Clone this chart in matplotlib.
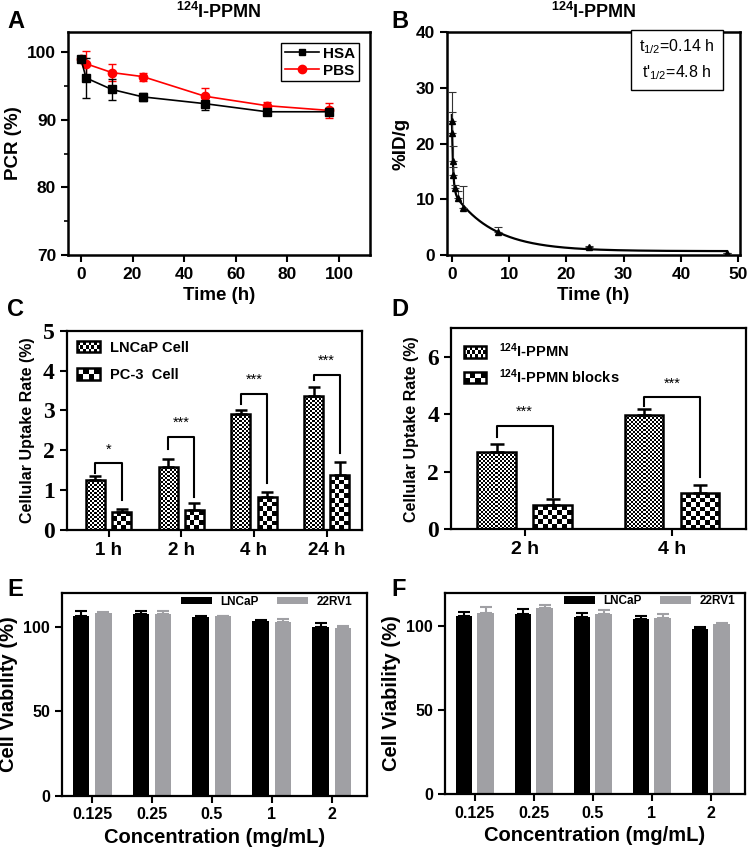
import numpy as np
import matplotlib
matplotlib.use('Agg')
import matplotlib.pyplot as plt
from matplotlib.patches import Rectangle, Patch
from matplotlib.lines import Line2D
from matplotlib.legend_handler import HandlerBase
from matplotlib.ticker import MultipleLocator

plt.rcParams['font.family'] = ['Liberation Sans', 'DejaVu Sans']
plt.rcParams['font.weight'] = 'bold'
plt.rcParams['axes.labelweight'] = 'bold'
plt.rcParams['mathtext.fontset'] = 'custom'
plt.rcParams['mathtext.rm'] = 'Liberation Sans:weight=normal:style=normal'
plt.rcParams['mathtext.bf'] = 'Liberation Sans:weight=bold:style=normal'
plt.rcParams['mathtext.it'] = 'Liberation Sans:weight=normal:style=italic'
plt.rcParams['mathtext.default'] = 'rm'

# ---- data ----
# A: radiochemical purity in HSA / PBS
a_time = [0, 2, 12, 24, 48, 72, 96]
hsa = [99.0, 96.2, 94.5, 93.4, 92.4, 91.2, 91.2]
hsa_err = [0.3, 3.0, 1.5, 0.6, 0.9, 0.4, 0.5]
pbs = [99.0, 98.3, 97.0, 96.4, 93.5, 92.1, 91.4]
pbs_err = [0.3, 1.9, 1.3, 0.6, 1.2, 0.6, 1.1]

# B: blood clearance
b_time = [0.033, 0.083, 0.167, 0.25, 0.5, 1, 2, 8, 24, 48]
b_val = [24.0, 21.8, 16.9, 14.4, 12.1, 10.3, 8.4, 4.2, 1.4, 0.3]
b_err = [5.3, 3.9, 2.6, 1.3, 0.4, 1.1, 4.0, 0.9, 0.2, 0.1]
# two-phase fit (half-lives from the panel)
t_half_fast, t_half_slow = 0.14, 4.8
amp_fast, amp_slow, plateau = 13.5, 10.9, 0.7

# C: cellular uptake LNCaP vs PC-3
c_labels = ['1 h', '2 h', '4 h', '24 h']
lncap = [1.25, 1.57, 2.90, 3.36]
lncap_err = [0.10, 0.22, 0.12, 0.22]
pc3 = [0.46, 0.50, 0.82, 1.37]
pc3_err = [0.06, 0.17, 0.14, 0.34]
c_bracket = [1.67, 2.33, 3.42, 3.89]
c_left_end = [1.42, 2.04, 3.17, 3.75]
c_right_end = [0.75, 0.82, 1.17, 1.92]
c_stars = ['*', '***', '***', '***']

# D: blocking study
d_labels = ['2 h', '4 h']
ppmn = [2.68, 3.97]
ppmn_err = [0.30, 0.21]
blocks = [0.83, 1.25]
blocks_err = [0.23, 0.30]
d_bracket = [3.61, 4.59]
d_left_end = [3.23, 4.30]
d_right_end = [1.14, 1.83]
d_stars = ['***', '***']

# E / F: cell viability
conc = ['0.125', '0.25', '0.5', '1', '2']
e_lncap = [106.3, 107.7, 105.7, 103.8, 100.0]
e_lncap_err = [3.4, 1.8, 1.0, 0.6, 2.2]
e_22rv1 = [108.3, 107.7, 106.3, 103.2, 99.6]
e_22rv1_err = [0.8, 1.6, 0.5, 1.4, 1.2]
f_lncap = [105.8, 107.2, 105.2, 104.0, 98.5]
f_lncap_err = [2.8, 3.0, 2.8, 2.2, 1.0]
f_22rv1 = [108.0, 111.0, 107.2, 104.7, 101.2]
f_22rv1_err = [3.3, 1.8, 2.5, 2.5, 0.8]

GREY = '#a0a0a4'


def checker_fill(ax, bars, cell_px):
    for rect in bars:
        x0, y0 = rect.get_x(), rect.get_y()
        x1, y1 = x0 + rect.get_width(), y0 + rect.get_height()
        (px0, py0), (px1, py1) = ax.transData.transform([(x0, y0), (x1, y1)])
        nx = max(1, int(round((px1 - px0) / cell_px)))
        ny = max(1, int(round((py1 - py0) / cell_px)))
        ii, jj = np.indices((ny, nx))
        im = ax.imshow((ii + jj) % 2, extent=(x0, x1, y0, y1), cmap='gray',
                       vmin=0, vmax=1, interpolation='nearest', aspect='auto',
                       origin='lower', zorder=1)
        im.set_clip_path(rect)


class CheckerHandler(HandlerBase):
    def __init__(self, nx, ny):
        super().__init__()
        self.nx, self.ny = nx, ny

    def create_artists(self, legend, orig_handle, xdescent, ydescent,
                       width, height, fontsize, trans):
        arts = []
        cw, ch = width / self.nx, height / self.ny
        for i in range(self.nx):
            for j in range(self.ny):
                if (i + j) % 2 == 0:
                    arts.append(Rectangle((-xdescent + i * cw, -ydescent + j * ch), cw, ch,
                                          facecolor='black', edgecolor='none', transform=trans))
        arts.append(Rectangle((-xdescent, -ydescent), width, height, facecolor='none',
                              edgecolor='black', lw=1.8, transform=trans))
        return arts


def spines(ax, lw):
    for s in ax.spines.values():
        s.set_linewidth(lw)


fig = plt.figure(figsize=(7.5, 8.47), dpi=100)

# ---------------- A ----------------
axA = fig.add_axes([0.0907, 0.6989, 0.4027, 0.2633])
axA.errorbar(a_time, pbs, yerr=pbs_err, color='red', marker='o', ms=6,
             lw=1.2, capsize=3, elinewidth=1, capthick=1)
axA.errorbar(a_time, hsa, yerr=hsa_err, color='black', marker='s', ms=5.5,
             lw=1.2, capsize=3, elinewidth=1, capthick=1)
hA1 = Line2D([], [], color='black', marker='s', ms=5, lw=1.2)
hA2 = Line2D([], [], color='red', marker='o', ms=6, lw=1.2)
leg = axA.legend([hA1, hA2], ['HSA', 'PBS'], loc='upper right', fontsize=11,
                 fancybox=False, edgecolor='black', framealpha=1, handlelength=2.2,
                 borderaxespad=0.7, handletextpad=0.3, borderpad=0.25, labelspacing=0.2)
leg.get_frame().set_linewidth(1.0)
axA.set_xlim(-5, 112)
axA.set_ylim(70, 103)
axA.set_xticks([0, 20, 40, 60, 80, 100])
axA.set_yticks([70, 80, 90, 100])
axA.yaxis.set_minor_locator(MultipleLocator(5))
axA.tick_params(labelsize=12.5, width=1.5, length=5)
axA.tick_params(which='minor', width=1.2, length=3)
axA.set_xlabel('Time (h)', fontsize=13.5)
axA.set_ylabel('PCR (%)', fontsize=13.5)
axA.set_title(r'$\mathbf{^{124}}$I-PPMN', fontsize=13, fontweight='bold', pad=10)
spines(axA, 1.8)

# ---------------- B ----------------
axB = fig.add_axes([0.5956, 0.6989, 0.391, 0.2633])
t_fit = np.linspace(0, 48, 600)
y_fit = (amp_fast * np.exp(-np.log(2) * t_fit / t_half_fast)
         + amp_slow * np.exp(-np.log(2) * t_fit / t_half_slow) + plateau)
axB.plot(t_fit, y_fit, color='black', lw=1.6, zorder=3)
axB.errorbar(b_time, b_val, yerr=[np.zeros(len(b_err)), b_err], fmt='^', color='black',
             ms=5, ecolor='#333333', elinewidth=0.8, capsize=3, capthick=0.8, zorder=4)
axB.set_xlim(-0.9, 50.3)
axB.set_ylim(0, 40)
axB.set_xticks([0, 10, 20, 30, 40, 50])
axB.set_yticks([0, 10, 20, 30, 40])
axB.tick_params(labelsize=12.5, width=1.5, length=5)
axB.set_xlabel('Time (h)', fontsize=13.5)
axB.set_ylabel('%ID/g', fontsize=13.5)
axB.set_title(r'$\mathbf{^{124}}$I-PPMN', fontsize=13, fontweight='bold', pad=10)
axB.text(0.785, 0.875, 't$_{1/2}$=0.14 h\nt\'$_{1/2}$=4.8 h', transform=axB.transAxes,
         ha='center', va='center', fontsize=11.5, fontweight='normal', linespacing=1.5,
         bbox=dict(boxstyle='square,pad=0.5', facecolor='white', edgecolor='black', lw=1.0))
spines(axB, 1.8)

# ---------------- C ----------------
axC = fig.add_axes([0.0889, 0.3743, 0.3933, 0.2353])
xc = np.arange(len(c_labels))
off_c, w_c = 0.18, 0.26
bars_c1 = axC.bar(xc - off_c, lncap, w_c, facecolor='none', edgecolor='black', lw=1.8, zorder=2)
bars_c2 = axC.bar(xc + off_c, pc3, w_c, facecolor='none', edgecolor='black', lw=1.8, zorder=2)
axC.errorbar(xc - off_c, lncap, yerr=[np.zeros(4), lncap_err], fmt='none', ecolor='black',
             elinewidth=1.8, capsize=4, capthick=1.8, zorder=1.5)
axC.errorbar(xc + off_c, pc3, yerr=[np.zeros(4), pc3_err], fmt='none', ecolor='black',
             elinewidth=1.8, capsize=4, capthick=1.8, zorder=1.5)
for i in range(len(xc)):
    axC.plot([xc[i] - off_c, xc[i] - off_c, xc[i] + off_c, xc[i] + off_c],
             [c_left_end[i], c_bracket[i], c_bracket[i], c_right_end[i]],
             color='black', lw=1.5)
    axC.annotate(c_stars[i], (xc[i], c_bracket[i]), xytext=(0, 5), textcoords='offset points',
                 ha='center', va='bottom', fontsize=10.5, fontweight='normal')
axC.set_xlim(-0.575, 3.48)
axC.set_ylim(0, 5)
checker_fill(axC, bars_c1, 2.0)
checker_fill(axC, bars_c2, 4.6)
axC.set_xlim(-0.575, 3.48)
axC.set_ylim(0, 5)
axC.set_xticks(xc)
axC.set_xticklabels(c_labels)
axC.set_yticks([0, 1, 2, 3, 4, 5])
axC.tick_params(width=1.5, length=5)
axC.tick_params(axis='x', labelsize=13.5)
axC.tick_params(axis='y', labelsize=17, labelfontfamily='Liberation Serif')
axC.set_ylabel('Cellular Uptake Rate (%)', fontsize=11.5, labelpad=6)
h1, h2 = Patch(), Patch()
axC.legend([h1, h2], ['LNCaP Cell', 'PC-3  Cell'], loc='upper left', frameon=False,
           fontsize=10.5, handler_map={h1: CheckerHandler(8, 3), h2: CheckerHandler(4, 2)},
           handlelength=1.6, handleheight=0.8, labelspacing=0.9, borderaxespad=0.3,
           handletextpad=0.7)
spines(axC, 1.6)

# ---------------- D ----------------
axD = fig.add_axes([0.6013, 0.3751, 0.3929, 0.2373])
xd = np.arange(len(d_labels))
off_d, w_d = 0.19, 0.26
bars_d1 = axD.bar(xd - off_d, ppmn, w_d, facecolor='none', edgecolor='black', lw=1.8, zorder=2)
bars_d2 = axD.bar(xd + off_d, blocks, w_d, facecolor='none', edgecolor='black', lw=1.8, zorder=2)
axD.errorbar(xd - off_d, ppmn, yerr=[np.zeros(2), ppmn_err], fmt='none', ecolor='black',
             elinewidth=1.8, capsize=5, capthick=1.8, zorder=1.5)
axD.errorbar(xd + off_d, blocks, yerr=[np.zeros(2), blocks_err], fmt='none', ecolor='black',
             elinewidth=1.8, capsize=5, capthick=1.8, zorder=1.5)
for i in range(len(xd)):
    axD.plot([xd[i] - off_d, xd[i] - off_d, xd[i] + off_d, xd[i] + off_d],
             [d_left_end[i], d_bracket[i], d_bracket[i], d_right_end[i]],
             color='black', lw=1.5)
    axD.annotate(d_stars[i], (xd[i], d_bracket[i]), xytext=(0, 5), textcoords='offset points',
                 ha='center', va='bottom', fontsize=10.5, fontweight='normal')
axD.set_xlim(-0.5, 1.5)
axD.set_ylim(0, 7)
checker_fill(axD, bars_d1, 2.0)
checker_fill(axD, bars_d2, 4.6)
axD.set_xlim(-0.5, 1.5)
axD.set_ylim(0, 7)
axD.set_xticks(xd)
axD.set_xticklabels(d_labels)
axD.set_yticks([0, 2, 4, 6])
axD.tick_params(width=1.5, length=5)
axD.tick_params(axis='x', labelsize=14)
axD.tick_params(axis='y', labelsize=17, labelfontfamily='Liberation Serif')
axD.set_ylabel('Cellular Uptake Rate (%)', fontsize=11.5, labelpad=6)
h3, h4 = Patch(), Patch()
axD.legend([h3, h4], [r'$\mathbf{^{124}}$I-PPMN', r'$\mathbf{^{124}}$I-PPMN blocks'],
           loc='upper left', frameon=False, fontsize=10.5,
           handler_map={h3: CheckerHandler(8, 3), h4: CheckerHandler(4, 2)},
           handlelength=1.5, handleheight=0.8, labelspacing=0.5, borderaxespad=0.5,
           handletextpad=0.9)
spines(axD, 1.6)


# ---------------- E / F ----------------
def viability(ax, lnc, lnc_err, rv, rv_err, leg_x):
    x = np.arange(len(conc))
    off, w = 0.185, 0.28
    b1 = ax.bar(x - off, lnc, w, color='black', label='LNCaP')
    b2 = ax.bar(x + off, rv, w, color=GREY, label='22RV1')
    ax.errorbar(x - off, lnc, yerr=[np.zeros(len(x)), lnc_err], fmt='none', ecolor='black',
                elinewidth=1.5, capsize=4, capthick=1.5, zorder=0.5)
    ax.errorbar(x + off, rv, yerr=[np.zeros(len(x)), rv_err], fmt='none', ecolor=GREY,
                elinewidth=1.5, capsize=4, capthick=1.5, zorder=0.5)
    ax.set_xlim(-0.505, 4.58)
    ax.set_ylim(0, 120)
    ax.set_xticks(x)
    ax.set_xticklabels(conc)
    ax.set_yticks([0, 50, 100])
    ax.tick_params(labelsize=11.5, width=1.5, length=5)
    ax.set_xlabel('Concentration (mg/mL)', fontsize=14.5)
    ax.set_ylabel('Cell Viability (%)', fontsize=14.5)
    ax.legend(handles=[b1, b2], loc='upper right', bbox_to_anchor=(leg_x, 1.0), ncol=2,
              frameon=False, fontsize=8.5, handlelength=2.6, handleheight=0.6,
              columnspacing=1.6, borderaxespad=0.0, borderpad=0.2, handletextpad=0.7)
    spines(ax, 1.6)


axE = fig.add_axes([0.0823, 0.0606, 0.4067, 0.239])
viability(axE, e_lncap, e_lncap_err, e_22rv1, e_22rv1_err, 0.96)
axF = fig.add_axes([0.5933, 0.0626, 0.4, 0.2377])
viability(axF, f_lncap, f_lncap_err, f_22rv1, f_22rv1_err, 0.975)

# panel letters
for lab, x, y in [('A', 0.010, 0.988), ('B', 0.522, 0.988), ('C', 0.010, 0.648),
                  ('D', 0.522, 0.648), ('E', 0.010, 0.318), ('F', 0.522, 0.318)]:
    fig.text(x, y, lab, fontsize=17, fontweight='bold', va='top', ha='left')

fig.savefig('out.png', dpi=100)
